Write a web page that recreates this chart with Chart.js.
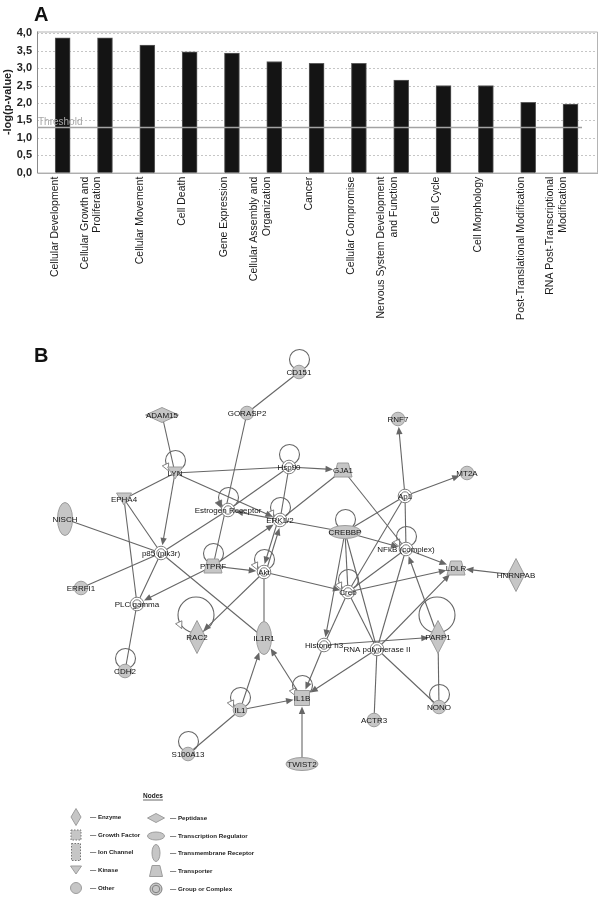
<!DOCTYPE html>
<html><head><meta charset="utf-8">
<script src="https://cdn.jsdelivr.net/npm/chart.js@4.4.1/dist/chart.umd.min.js"></script>
<style>
html,body{margin:0;padding:0;background:#fff;}
#wrap{position:relative;width:600px;height:897px;overflow:hidden;}
.box{position:absolute;left:0;width:600px;}
</style></head><body>
<div id="wrap">
<div class="box" style="top:0;height:325px"><canvas id="c1"></canvas></div>
<div class="box" style="top:325px;height:572px"><canvas id="c2"></canvas></div>
</div>
<script>
// ---------------- DATA: panel A ----------------
const categories = ['Cellular Development', ['Cellular Growth and','Proliferation'], 'Cellular Movement', 'Cell Death',
  'Gene Expression', ['Cellular Assembly and','Organization'], 'Cancer', 'Cellular Compromise',
  ['Nervous System Development','and Function'], 'Cell Cycle', 'Cell Morphology',
  'Post-Translational Modification', ['RNA Post-Transcriptional','Modification']];
const values = [3.87, 3.87, 3.66, 3.47, 3.43, 3.19, 3.14, 3.14, 2.66, 2.50, 2.50, 2.02, 1.97];
const thresholdValue = 1.3;
const yTicks = [0, 0.5, 1, 1.5, 2, 2.5, 3, 3.5, 4];

// ---------------- DATA: panel B (network) ----------------
const nodeNames = ['CD151','ADAM15','GORASP2','RNF7','LYN','Hsp90','GJA1','MT2A','EPHA4','NISCH',
  'Estrogen Receptor','ERK1/2','Ap1','CREBBP','NFkB (complex)','LDLR','HNRNPAB','p85 (pik3r)','PTPRF','Akt',
  'ERRFI1','PLC gamma','Creb','RAC2','IL1R1','Histone h3','RNA polymerase II','PARP1','CDH2','IL1',
  'IL1B','ACTR3','NONO','S100A13','TWIST2'];
const nodeX = [299,162,247,398,175,289,343,467,124,65, 228,280,405,345,406,456,516,161,213,264, 81,137,348,197,264,324,377,438,125,240, 302,374,439,188,302];
const nodeY = [372,415,413,419,473,467,470,473,499,519, 510,520,496,532,549,568,575,553,566,572, 588,604,592,637,638,645,649,637,671,710, 698,720,707,754,764];
const nodeTypes = ['other','peptidase','other','other','kinase','complex','transporter','other','kinase','tmr',
  'complex','complex','complex','tr','complex','transporter','enzyme','complex','transporter','complex',
  'other','complex','complex','enzyme','tmr','complex','complex','enzyme','other','other',
  'cytokine','other','other','other','tr'];
const edges = [
  ['CD151','GORASP2',0], ['ADAM15','LYN',0], ['GORASP2','PTPRF',0], ['LYN','Hsp90',0], ['LYN','ERK1/2',1],
  ['LYN','EPHA4',0], ['LYN','p85 (pik3r)',1], ['EPHA4','p85 (pik3r)',0], ['EPHA4','PLC gamma',0], ['PLC gamma','CDH2',0],
  ['NISCH','p85 (pik3r)',0], ['ERRFI1','p85 (pik3r)',0], ['p85 (pik3r)','PLC gamma',0], ['p85 (pik3r)','Estrogen Receptor',0],
  ['p85 (pik3r)','IL1R1',0], ['PTPRF','PLC gamma',1], ['PTPRF','Akt',1], ['PTPRF','ERK1/2',1], ['ERK1/2','Akt',1],
  ['Akt','ERK1/2',1], ['Akt','RAC2',1], ['Akt','IL1R1',0], ['Akt','Creb',1], ['ERK1/2','CREBBP',0],
  ['CREBBP','NFkB (complex)',1], ['ERK1/2','Estrogen Receptor',1], ['Hsp90','GJA1',1], ['Hsp90','Estrogen Receptor',0],
  ['Hsp90','ERK1/2',0], ['GJA1','ERK1/2',0], ['GJA1','NFkB (complex)',0], ['Ap1','RNF7',1], ['Ap1','MT2A',1],
  ['Ap1','NFkB (complex)',0], ['Ap1','CREBBP',0], ['Ap1','Creb',0], ['NFkB (complex)','Creb',0], ['NFkB (complex)','LDLR',1],
  ['Creb','LDLR',1], ['RNA polymerase II','LDLR',1], ['HNRNPAB','LDLR',1], ['PARP1','NFkB (complex)',1],
  ['NFkB (complex)','RNA polymerase II',0], ['CREBBP','Histone h3',1], ['CREBBP','Creb',0], ['CREBBP','RNA polymerase II',0],
  ['Creb','Histone h3',0], ['Creb','RNA polymerase II',0], ['Histone h3','PARP1',1], ['RNA polymerase II','NONO',0],
  ['PARP1','NONO',0], ['RNA polymerase II','ACTR3',0], ['RNA polymerase II','IL1B',1], ['Histone h3','IL1B',1],
  ['IL1B','IL1R1',1], ['IL1','IL1R1',1], ['IL1','IL1B',1], ['S100A13','IL1',0], ['TWIST2','IL1B',1]
];
const loopNodes = ['CD151','LYN','Hsp90','Estrogen Receptor','ERK1/2','CREBBP','NFkB (complex)','PTPRF','Akt','Creb',
  'RAC2','PARP1','CDH2','IL1','IL1B','NONO','S100A13'];
const loopArrow = [0,1,0,1,1,0,1,0,1,1, 1,0,0,1,1,0,0];
const legendLeft = ['Enzyme','Growth Factor','Ion Channel','Kinase','Other'];
const legendRight = ['Peptidase','Transcription Regulator','Transmembrane Receptor','Transporter','Group or Complex'];

// ---------------- STYLE ----------------
const FONT = "'Liberation Sans', Arial, sans-serif";
const EDGE = '#666666';
const GRAYFILL = '#c6c6c6';
const GRAYLINE = '#9c9c9c';

// ---------------- Panel A ----------------
const frameAPlugin = {
  id: 'frameA',
  beforeDatasetsDraw(chart) {
    const {ctx, chartArea, scales: {y}} = chart;
    const L = 37, R = 598, T = chartArea.top, B = y.getPixelForValue(0);
    ctx.save();
    ctx.strokeStyle = '#c6c6c6'; ctx.lineWidth = 1; ctx.setLineDash([2, 2]);
    yTicks.forEach(v => {
      if (v <= 0) return;
      const py = Math.round(y.getPixelForValue(v)) + 0.5;
      ctx.beginPath(); ctx.moveTo(L, py); ctx.lineTo(R, py); ctx.stroke();
    });
    ctx.setLineDash([]);
    ctx.strokeStyle = '#b4b4b4';
    ctx.beginPath(); ctx.moveTo(L, T + 0.5); ctx.lineTo(R - 0.5, T + 0.5); ctx.lineTo(R - 0.5, B); ctx.stroke();
    ctx.strokeStyle = '#8a8a8a';
    ctx.beginPath(); ctx.moveTo(L + 0.5, T); ctx.lineTo(L + 0.5, B + 0.5); ctx.lineTo(R, B + 0.5); ctx.stroke();
    ctx.restore();
  },
  afterDatasetsDraw(chart) {
    const {ctx, scales: {y}} = chart;
    const ty = y.getPixelForValue(thresholdValue);
    ctx.save();
    ctx.strokeStyle = '#a2a2a2'; ctx.lineWidth = 1.5;
    ctx.beginPath(); ctx.moveTo(37, ty); ctx.lineTo(582, ty); ctx.stroke();
    ctx.fillStyle = '#a8a8a8'; ctx.font = '10px ' + FONT; ctx.textBaseline = 'middle'; ctx.textAlign = 'left';
    ctx.fillText('Threshold', 38, ty - 5.5);
    ctx.fillStyle = '#111'; ctx.font = 'bold 20px ' + FONT; ctx.textBaseline = 'alphabetic';
    ctx.fillText('A', 34, 21);
    ctx.restore();
  }
};

new Chart(document.getElementById('c1'), {
  type: 'bar',
  data: {
    labels: categories.map(c => Array.isArray(c) ? c : ['', c]),
    datasets: [{ data: values, backgroundColor: '#141414', borderColor: '#5c5c5c', borderWidth: 1, barThickness: 15 }]
  },
  options: {
    responsive: true, maintainAspectRatio: false, animation: false, events: [],
    layout: { padding: { left: 0, right: 7.5, top: 31.5, bottom: 0 } },
    plugins: { legend: { display: false }, tooltip: { enabled: false } },
    scales: {
      x: {
        grid: { display: false, drawTicks: false }, border: { display: false },
        ticks: { autoSkip: false, maxRotation: 90, minRotation: 90, padding: 4, labelOffset: -20,
          color: '#1a1a1a', font: { family: FONT, size: 10.5, lineHeight: 1.2 } },
        afterFit: s => { s.height = 152.3; }
      },
      y: {
        min: 0, max: 4.05,
        grid: { display: false, drawTicks: false }, border: { display: false },
        afterBuildTicks: s => { s.ticks = yTicks.map(v => ({ value: v })); },
        ticks: { padding: 9.5, color: '#222', font: { family: FONT, size: 11, weight: 'bold' },
          callback: v => Number(v).toFixed(1).replace('.', ',') },
        title: { display: true, text: '-log(p-value)', color: '#222', font: { family: FONT, size: 11, weight: 'bold' },
          padding: { top: 1, bottom: 0 } },
        afterFit: s => { s.width = 41.5; }
      }
    }
  },
  plugins: [frameAPlugin]
});

// ---------------- Panel B ----------------
const SHAPE = {
  other: {hw: 6.8, hh: 6.8}, complex: {hw: 6.8, hh: 6.8}, kinase: {hw: 7.5, hh: 6},
  transporter: {hw: 9, hh: 7}, cytokine: {hw: 7.5, hh: 7.5}, enzyme: {hw: 8.5, hh: 16.5},
  peptidase: {hw: 16.5, hh: 7.5}, tr: {hw: 16, hh: 6.5}, tmr: {hw: 7.5, hh: 16.5}
};
function shapePath(ctx, type, x, y, hw, hh) {
  ctx.beginPath();
  switch (type) {
    case 'other': case 'complex': ctx.arc(x, y, hw, 0, Math.PI * 2); break;
    case 'enzyme': case 'peptidase':
      ctx.moveTo(x, y - hh); ctx.lineTo(x + hw, y); ctx.lineTo(x, y + hh); ctx.lineTo(x - hw, y); ctx.closePath(); break;
    case 'tr': case 'tmr': ctx.ellipse(x, y, hw, hh, 0, 0, Math.PI * 2); break;
    case 'kinase':
      ctx.moveTo(x - hw, y - hh); ctx.lineTo(x + hw, y - hh); ctx.lineTo(x, y + hh); ctx.closePath(); break;
    case 'transporter':
      ctx.moveTo(x - hw * 0.6, y - hh); ctx.lineTo(x + hw * 0.6, y - hh); ctx.lineTo(x + hw, y + hh); ctx.lineTo(x - hw, y + hh); ctx.closePath(); break;
    default: ctx.rect(x - hw, y - hh, hw * 2, hh * 2);
  }
}
function drawShape(ctx, type, x, y, hw, hh, legend) {
  ctx.save();
  ctx.lineWidth = 1;
  shapePath(ctx, type, x, y, hw, hh);
  if (type === 'complex') {
    ctx.fillStyle = legend ? GRAYFILL : '#fff'; ctx.fill();
    ctx.strokeStyle = '#808080'; ctx.stroke();
    ctx.beginPath(); ctx.arc(x, y, hw * 0.62, 0, Math.PI * 2); ctx.stroke();
  } else {
    ctx.fillStyle = GRAYFILL; ctx.fill();
    if (type === 'growth' || type === 'ion') { ctx.setLineDash([1.5, 1.5]); ctx.strokeStyle = '#777'; }
    else ctx.strokeStyle = GRAYLINE;
    ctx.stroke();
  }
  ctx.restore();
}
function boundary(type, ux, uy) {
  const s = SHAPE[type];
  if (type === 'enzyme' || type === 'peptidase') return 1 / (Math.abs(ux) / s.hw + Math.abs(uy) / s.hh);
  if (type === 'cytokine') return Math.min(s.hw / Math.max(Math.abs(ux), 1e-6), s.hh / Math.max(Math.abs(uy), 1e-6));
  return 1 / Math.sqrt((ux / s.hw) ** 2 + (uy / s.hh) ** 2);
}
function arrowHead(ctx, tx, ty, ux, uy, len, half, fill, stroke) {
  const bx = tx - ux * len, by = ty - uy * len;
  ctx.beginPath();
  ctx.moveTo(tx, ty);
  ctx.lineTo(bx - uy * half, by + ux * half);
  ctx.lineTo(bx + uy * half, by - ux * half);
  ctx.closePath();
  ctx.fillStyle = fill; ctx.fill();
  if (stroke) { ctx.strokeStyle = stroke; ctx.lineWidth = 0.8; ctx.stroke(); }
}

const networkPlugin = {
  id: 'network',
  beforeDatasetsDraw(chart) {
    const {ctx} = chart;
    const meta = chart.getDatasetMeta(0);
    const P = name => meta.data[nodeNames.indexOf(name)];
    const T = name => nodeTypes[nodeNames.indexOf(name)];
    ctx.save();
    // self loops
    loopNodes.forEach((n, k) => {
      const p = P(n), big = T(n) === 'enzyme';
      const r = big ? 18 : 10;
      const cx = p.x + (big ? -1 : 0.5), cy = p.y - (big ? r + 4 : r + 2.5);
      ctx.strokeStyle = EDGE; ctx.lineWidth = 1.1;
      ctx.beginPath(); ctx.arc(cx, cy, r, 0, Math.PI * 2); ctx.stroke();
      if (loopArrow[k]) {
        const th = 155 * Math.PI / 180;
        const ax = cx + r * Math.cos(th), ay = cy + r * Math.sin(th) + 3;
        arrowHead(ctx, ax + 2, ay + 3, Math.sin(th), -Math.cos(th), 7, 3.5, n === 'Estrogen Receptor' ? EDGE : '#fff', EDGE);
      }
    });
    // edges
    edges.forEach(([a, b, arrow]) => {
      const pa = P(a), pb = P(b);
      let dx = pb.x - pa.x, dy = pb.y - pa.y;
      const d = Math.hypot(dx, dy), ux = dx / d, uy = dy / d;
      const both = edges.some(e => e[0] === b && e[1] === a);
      const off = both ? 1.8 : 0;
      const ox = -uy * off, oy = ux * off;
      const sx = pa.x + ox, sy = pa.y + oy;
      ctx.strokeStyle = EDGE; ctx.lineWidth = 1.1;
      if (arrow) {
        const bd = boundary(T(b), ux, uy) + 1;
        const tx = pb.x + ox - ux * bd, ty = pb.y + oy - uy * bd;
        ctx.beginPath(); ctx.moveTo(sx, sy); ctx.lineTo(tx - ux * 6, ty - uy * 6); ctx.stroke();
        arrowHead(ctx, tx, ty, ux, uy, 7.5, 3.2, EDGE);
      } else {
        ctx.beginPath(); ctx.moveTo(sx, sy); ctx.lineTo(pb.x + ox, pb.y + oy); ctx.stroke();
      }
    });
    ctx.restore();
  },
  afterDatasetsDraw(chart) {
    const {ctx, scales: {x: xs, y: ys}} = chart;
    const meta = chart.getDatasetMeta(0);
    ctx.save();
    nodeNames.forEach((n, i) => {
      const p = meta.data[i], s = SHAPE[nodeTypes[i]];
      drawShape(ctx, nodeTypes[i], p.x, p.y, s.hw, s.hh, false);
    });
    ctx.font = '8px ' + FONT; ctx.textAlign = 'center'; ctx.textBaseline = 'middle'; ctx.fillStyle = '#141414';
    nodeNames.forEach((n, i) => {
      const p = meta.data[i];
      ctx.fillText(n, p.x, p.y + 0.5);
    });
    // panel label
    ctx.fillStyle = '#111'; ctx.font = 'bold 20px ' + FONT; ctx.textAlign = 'left'; ctx.textBaseline = 'alphabetic';
    ctx.fillText('B', xs.getPixelForValue(34), ys.getPixelForValue(362));
    // legend
    const X = v => xs.getPixelForValue(v), Y = v => ys.getPixelForValue(v);
    ctx.font = 'bold 6.5px ' + FONT; ctx.textAlign = 'center'; ctx.fillStyle = '#222'; ctx.textBaseline = 'middle';
    ctx.fillText('Nodes', X(153), Y(796));
    const tw = ctx.measureText('Nodes').width;
    ctx.strokeStyle = '#222'; ctx.lineWidth = 0.7;
    ctx.beginPath(); ctx.moveTo(X(153) - tw / 2, Y(800)); ctx.lineTo(X(153) + tw / 2, Y(800)); ctx.stroke();
    const rows = [817, 835, 852, 870, 888];
    const leftShapes = [['enzyme', 5, 8.5], ['growth', 5, 5], ['ion', 4.5, 8.5], ['kinase', 5.5, 4], ['other', 5.5, 5.5]];
    const rightShapes = [['peptidase', 8.5, 4.5], ['tr', 8.5, 4], ['tmr', 4, 8.5], ['transporter', 6.5, 5.5], ['complex', 6, 6]];
    ctx.font = 'bold 6.2px ' + FONT; ctx.textAlign = 'left';
    legendLeft.forEach((t, k) => {
      const [ty, hw, hh] = leftShapes[k];
      drawShape(ctx, ty, X(76), Y(rows[k]), hw, hh, true);
      ctx.fillStyle = '#222'; ctx.fillText('\u2014 ' + t, X(90), Y(rows[k]));
    });
    legendRight.forEach((t, k) => {
      const [ty, hw, hh] = rightShapes[k];
      drawShape(ctx, ty, X(156), Y(rows[k] + 1), hw, hh, true);
      ctx.fillStyle = '#222'; ctx.fillText('\u2014 ' + t, X(170), Y(rows[k] + 1));
    });
    ctx.restore();
  }
};

new Chart(document.getElementById('c2'), {
  type: 'scatter',
  data: { datasets: [{ data: nodeNames.map((n, i) => ({ x: nodeX[i], y: nodeY[i] })), pointRadius: 0, pointHoverRadius: 0 }] },
  options: {
    responsive: true, maintainAspectRatio: false, animation: false, events: [],
    layout: { padding: 0 },
    plugins: { legend: { display: false }, tooltip: { enabled: false } },
    scales: {
      x: { type: 'linear', min: 0, max: 600, display: false },
      y: { type: 'linear', min: 325, max: 897, reverse: true, display: false }
    }
  },
  plugins: [networkPlugin]
});
</script>
</body></html>
